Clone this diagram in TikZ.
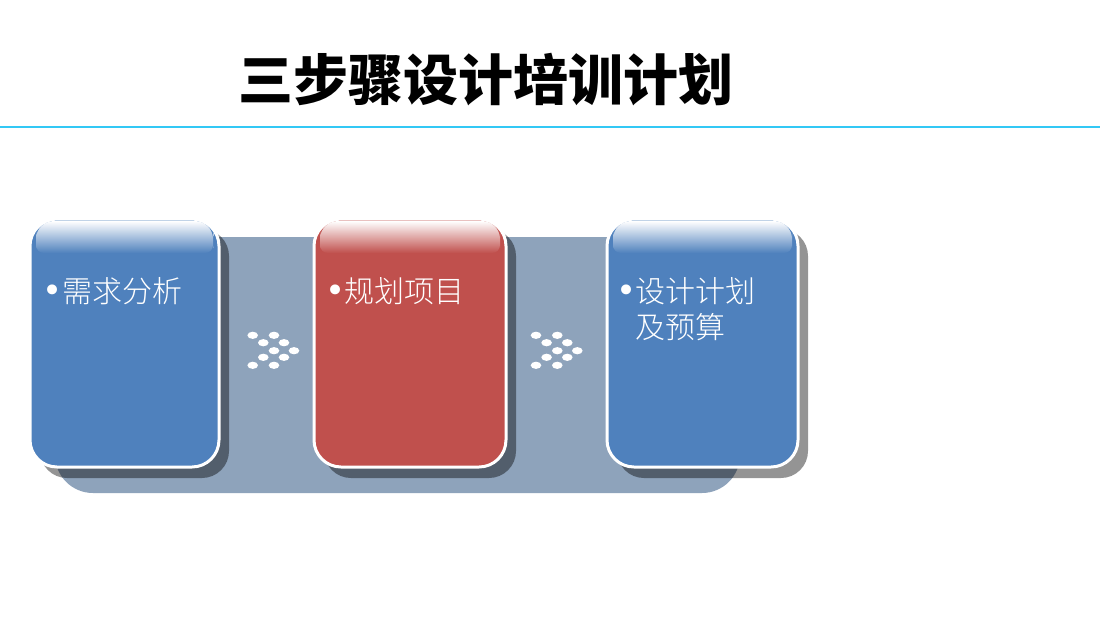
\documentclass[tikz,border=0pt]{standalone}
\usepackage{fontspec}
\newfontfamily\cjk{Noto Sans CJK SC Light}
\newfontfamily\cjkb{Noto Sans CJK SC Black}
\newfontfamily\dvs{DejaVu Sans}
\definecolor{band}{HTML}{8EA3BB}
\definecolor{bblue}{HTML}{4F81BD}
\definecolor{bred}{HTML}{C0504D}
\definecolor{rule}{HTML}{33C8F5}
\tikzset{
  boxshadow/.style={fill=black,fill opacity=0.42,rounded corners=27pt},
  boxbody/.style={draw=white,line width=3pt,rounded corners=27pt,outer sep=0pt,inner sep=0pt},
  dot/.style={fill=white,draw=none},
  btxt/.style={text=white,font=\cjk\fontsize{30}{36}\selectfont,inner sep=0pt},
  bul/.style={text=white,font=\dvs\fontsize{34}{36}\selectfont,inner sep=0pt},
}
\newcommand{\glossbox}[4]{% x1 x2 color name
  \fill[boxshadow] (#1+10,229) rectangle (#2+10,478);
  \node[boxbody,fill=#3,minimum width=#2-#1,minimum height=248pt,anchor=north west] (#4) at (#1,219) {};
  \shade[top color=white,bottom color=#3,rounded corners=8pt]
    (#1+6,240) -- (#1+6,253) -- (#2-6,253) -- (#2-6,240)
    {[rounded corners=18pt] -- (#2-6,221) -- (#1+6,221)} -- cycle;
}
\newcommand{\dotarrow}[1]{%
  \foreach \dx/\dy in {0/335.3,21.3/335.3,10.6/342.7,31.3/342.7,21.3/350.7,41.3/350.7,10.6/357.3,31.3/357.3,0/365.3,21.3/365.3}{
    \fill[dot] (#1+\dx,\dy) ellipse [x radius=5.3pt,y radius=3.6pt];
  }
}
\begin{document}
\begin{tikzpicture}[x=1pt,y=-1pt]
\useasboundingbox (0,0) rectangle (1100,619);
\fill[white] (0,0) rectangle (1100,619);
% title
\node[font=\cjkb\fontsize{55}{60}\selectfont,inner sep=0pt] (title) at (486,80) {三步骤设计培训计划};
\draw[rule,line width=2.5pt] (0,127) -- (1100,127);
% band
\fill[band,rounded corners=38pt] (55,237) rectangle (740,493);
% boxes
\glossbox{30}{219}{bblue}{b1}
\glossbox{314}{506}{bred}{b2}
\glossbox{607}{798}{bblue}{b3}
% dots
\dotarrow{252.7}
\dotarrow{536}
% texts
\node[bul,anchor=base] (u1) at (53,302) {•};
\node[btxt,anchor=base west] (t1) at (62,302) {需求分析};
\node[bul,anchor=base] (u2) at (336,302) {•};
\node[btxt,anchor=base west] (t2) at (344,302) {规划项目};
\node[bul,anchor=base] (u3) at (627,302) {•};
\node[btxt,anchor=base west] (t3) at (635,302) {设计计划};
\node[btxt,anchor=base west] (t3b) at (635,338) {及预算};
\end{tikzpicture}
\end{document}
